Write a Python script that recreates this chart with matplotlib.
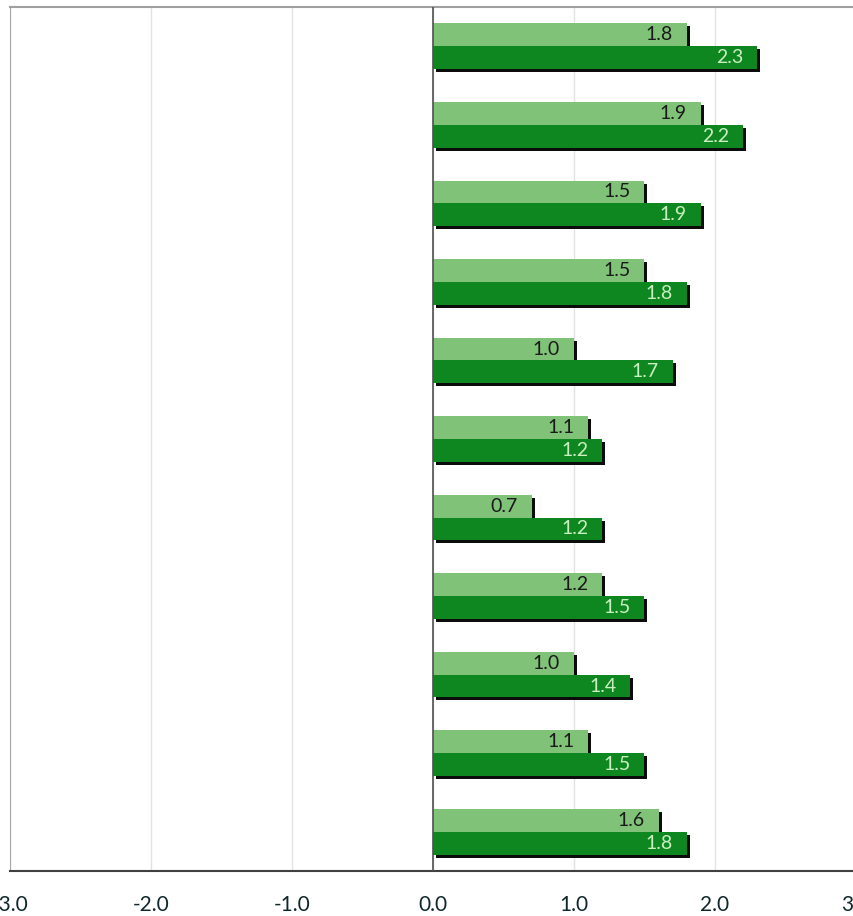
import matplotlib.pyplot as plt
import matplotlib.transforms as mtransforms
import numpy as np

# values, top to bottom
light_vals = [1.8, 1.9, 1.5, 1.5, 1.0, 1.1, 0.7, 1.2, 1.0, 1.1, 1.6]
dark_vals = [2.3, 2.2, 1.9, 1.8, 1.7, 1.2, 1.2, 1.5, 1.4, 1.5, 1.8]
x_ticks = [-3.0, -2.0, -1.0, 0.0, 1.0, 2.0, 3.0]

light_col = "#80c278"
dark_col = "#0f8720"

plt.rcParams['font.family'] = ['Lato', 'DejaVu Sans']

fig = plt.figure(figsize=(8.54, 9.16), dpi=100)
ax = fig.add_axes([10 / 854, 45 / 916, 846 / 854, 864 / 916])

y = np.arange(len(light_vals))
h = 0.29

# shadow copies, shifted right and down a little
shadow = mtransforms.offset_copy(ax.transData, fig=fig, x=3, y=-3, units='dots')
ax.barh(y - h / 2, light_vals, height=h, color="#0c0c0c", transform=shadow, zorder=2)
ax.barh(y + h / 2, dark_vals, height=h, color="#0c0c0c", transform=shadow, zorder=2)

ax.barh(y - h / 2, light_vals, height=h, color=light_col, zorder=3)
ax.barh(y + h / 2, dark_vals, height=h, color=dark_col, zorder=3)

# value labels inside the bar ends
for i in range(len(light_vals)):
    ax.annotate("%.1f" % light_vals[i], (light_vals[i], y[i] - h / 2),
                xytext=(-14, 0), textcoords='offset pixels', ha='right', va='center',
                fontsize=14, color="#1a1a1a", zorder=4)
    ax.annotate("%.1f" % dark_vals[i], (dark_vals[i], y[i] + h / 2),
                xytext=(-14, 0), textcoords='offset pixels', ha='right', va='center',
                fontsize=14, color="#c9efc2", zorder=4)

ax.set_xlim(-3, 3)
ax.set_ylim(len(light_vals) - 0.5, -0.5)
ax.set_yticks([])
ax.set_xticks(x_ticks)
ax.set_xticklabels(["%.1f" % t for t in x_ticks], fontsize=15, color="#10282a")
ax.tick_params(axis='x', length=0, pad=17)

ax.grid(axis='x', color="#e2e2e2", linewidth=1, zorder=0)
ax.set_axisbelow(True)
ax.axvline(0, color="#505050", linewidth=1.2, zorder=5)

ax.spines['left'].set_color("#a8a8a8")
ax.spines['top'].set_color("#a0a0a0")
ax.spines['top'].set_linewidth(1.5)
ax.spines['bottom'].set_color("#404040")
ax.spines['bottom'].set_linewidth(1.5)
ax.spines['right'].set_visible(False)

fig.savefig("out.png", dpi=100)
